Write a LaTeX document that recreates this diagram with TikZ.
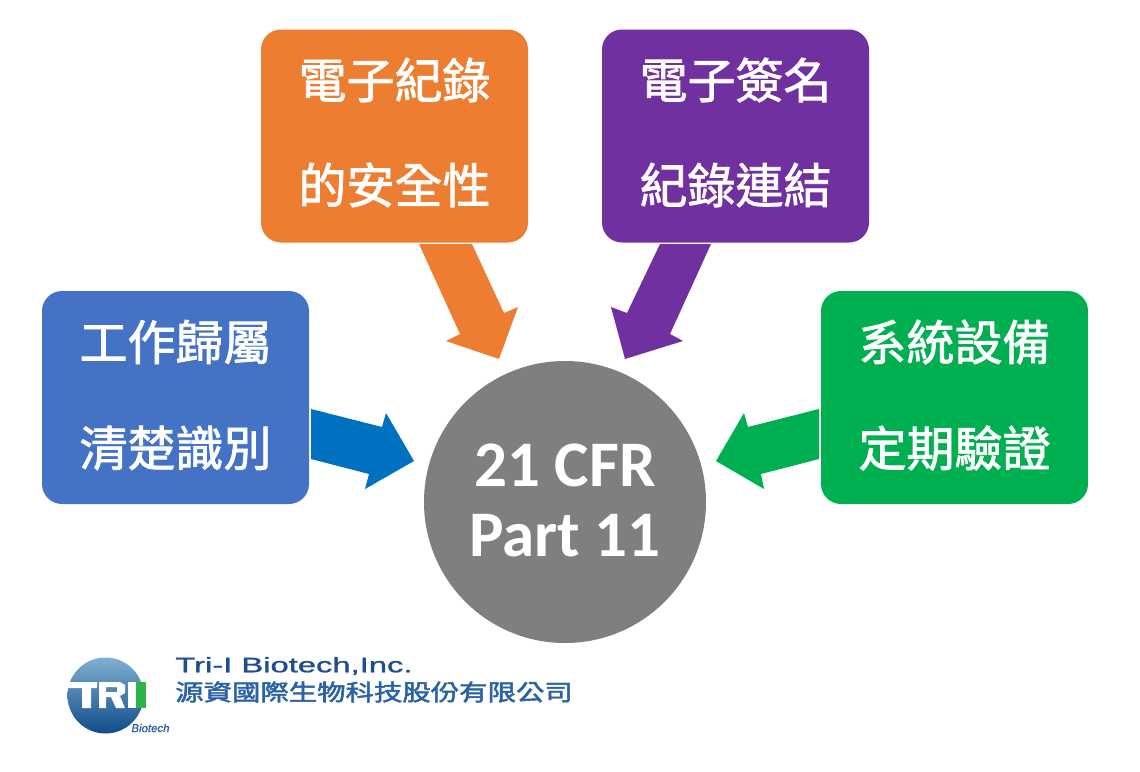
\documentclass[tikz,border=0pt]{standalone}
\usepackage{fontspec}
\setmainfont{Carlito}
\newfontfamily\cjk[FakeBold=1.6]{Noto Sans CJK TC}
\newfontfamily\cjklogo[FakeBold=2]{Noto Sans CJK TC}
\newfontfamily\lat[FakeBold=1]{Liberation Sans}
\definecolor{cOrange}{HTML}{ED7D31}
\definecolor{cPurple}{HTML}{7030A0}
\definecolor{cBlue}{HTML}{4472C4}
\definecolor{cBlueA}{HTML}{0070C0}
\definecolor{cGreen}{HTML}{00B050}
\definecolor{cGrey}{HTML}{7F7F7F}
\definecolor{cLogo}{HTML}{1F4E8C}
\definecolor{cLogoC}{HTML}{2A62A4}
\definecolor{cBallT}{HTML}{7FB0CF}
\definecolor{cBallM}{HTML}{1B74B4}
\definecolor{cBallB}{HTML}{0F4C8A}
\definecolor{cBar}{HTML}{2DB34A}
\tikzset{
  box/.style={rounded corners=20pt,minimum width=267pt,minimum height=213pt,inner sep=0pt},
  boxline/.style={text=white,font=\cjk\fontsize{48}{48}\selectfont,inner sep=0pt,anchor=center},
  big/.style={text=white,font=\fontsize{65}{65}\selectfont\bfseries,inner sep=0pt,anchor=center}
}
\begin{document}
\begin{tikzpicture}[x=1pt,y=-1pt]
\useasboundingbox (0,0) rectangle (1140,771);
\fill[white] (0,0) rectangle (1140,771);
% arrows
\fill[cOrange] (419,244)--(472,244)--(504,313)--(518,307)--(499,359)--(446,341)--(460,334)--cycle;
\fill[cPurple] (660,244)--(711,244)--(670,334)--(683,341)--(625,359)--(611,307)--(627,313)--cycle;
\fill[cBlueA] (311,409)--(382,427)--(386,413)--(414,461)--(365,489)--(369,474)--(311,459)--cycle;
\fill[cGreen] (819,409)--(748,427)--(744,413)--(716,461)--(764,489)--(761,474)--(819,459)--cycle;
% boxes
\node[box,fill=cOrange] (o) at (394.5,136) {};
\node[box,fill=cPurple] (p) at (735.5,136) {};
\node[box,fill=cBlue] (b) at (175.5,397.5) {};
\node[box,fill=cGreen] (g) at (954.5,397.5) {};
\node[circle,fill=cGrey,minimum size=282pt,inner sep=0pt] (c) at (565,502) {};
% box text
\node[boxline] (o1) at (394.5,80) {電子紀錄};
\node[boxline] (o2) at (394.5,185) {的安全性};
\node[boxline] (p1) at (735.5,80) {電子簽名};
\node[boxline] (p2) at (735.5,185) {紀錄連結};
\node[boxline] (b1) at (175.5,342) {工作歸屬};
\node[boxline] (b2) at (175.5,448) {清楚識別};
\node[boxline] (g1) at (954.5,342) {系統設備};
\node[boxline] (g2) at (954.5,448) {定期驗證};
\node[big] (c1) at (565,465) {21 CFR};
\node[big] (c2) at (565,536) {Part 11};
% logo
\shade[top color=cBallT,middle color=cBallM,bottom color=cBallB,draw=none] (105.5,695.5) circle (38);
\fill[cBar] (136,682) rectangle (146,708);
\fill[white] (69,682) -- (97,682) -- (97,688) -- (91,688) -- (91,708) -- (82,708) -- (82,688) -- (67.5,688) -- cycle;
\fill[white,even odd rule] (99,682) -- (120,682) -- (125,685) -- (125,693) -- (120,696) -- (125,708) -- (116,708) -- (111,697) -- (106,697) -- (106,708) -- (99,708) -- cycle
  (106,687) -- (117,687) -- (117,692) -- (106,692) -- cycle;
\fill[white] (128,682) rectangle (136,708);
\node[text=cLogo,font=\lat\fontsize{21}{21}\selectfont,inner sep=0pt,anchor=west,xscale=1.56,transform shape] (t1) at (175,666) {Tri-I Biotech,Inc.};
\node[text=cLogoC,font=\cjklogo\fontsize{28.4}{28.4}\selectfont,inner sep=0pt,anchor=west,yscale=.8,transform shape] (t2) at (175,692) {源資國際生物科技股份有限公司};
\node[text=cLogoC,font=\lat\fontsize{11.4}{11.4}\selectfont\itshape,inner sep=0pt] (t3) at (150.5,728) {Biotech};
\end{tikzpicture}
\end{document}
